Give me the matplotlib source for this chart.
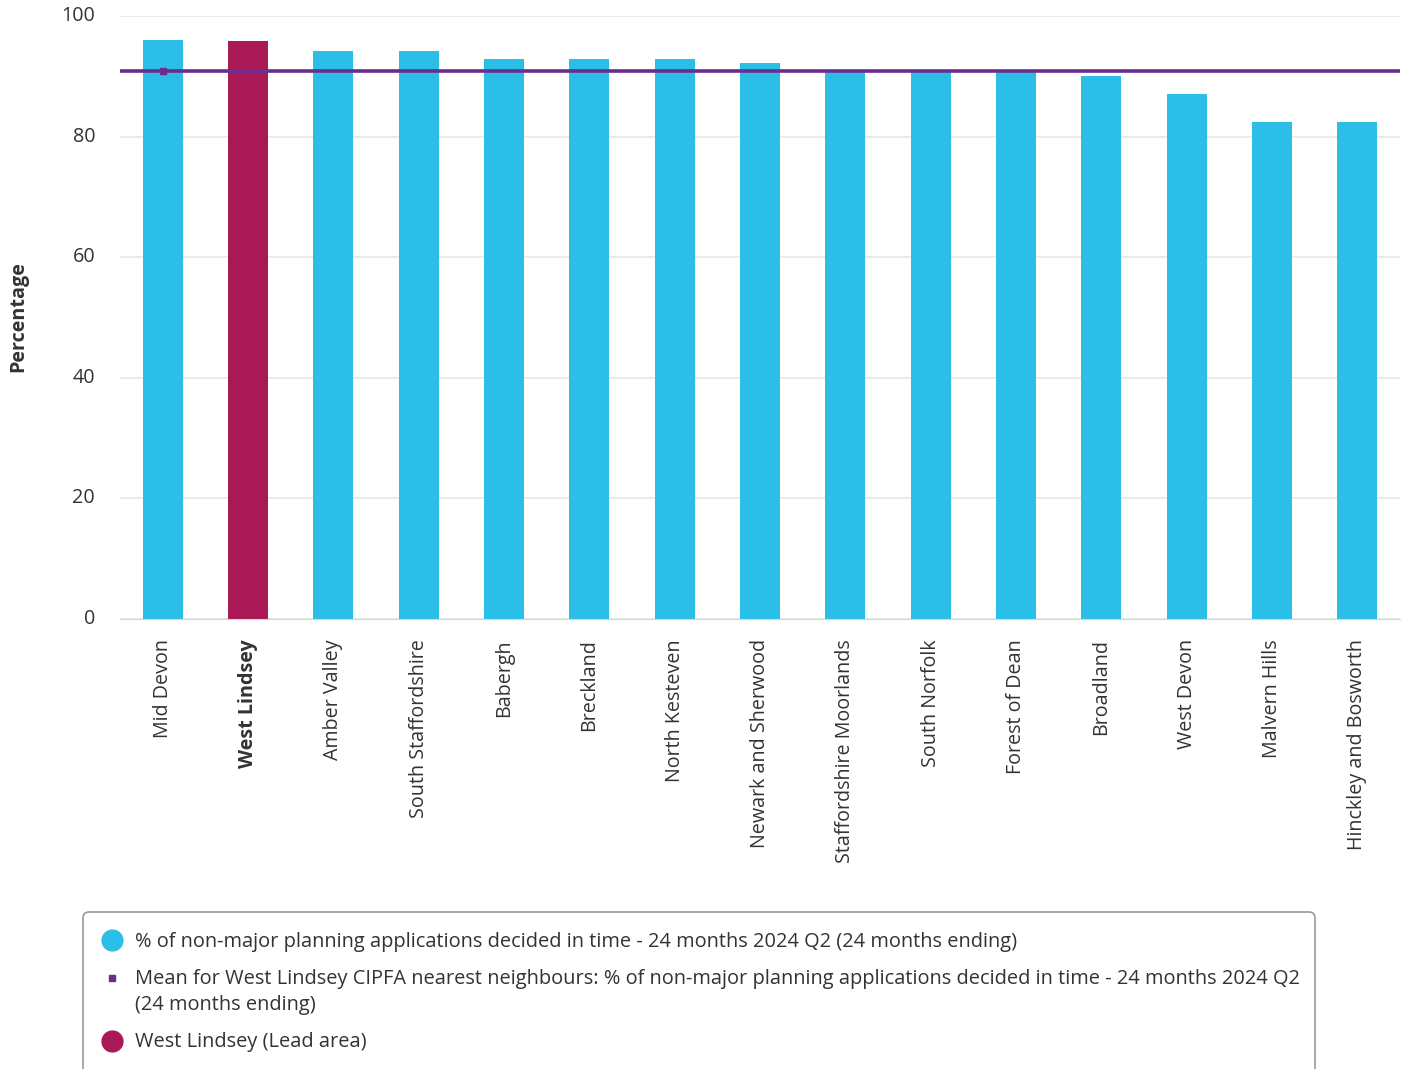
import matplotlib.pyplot as plt
from matplotlib.patches import FancyBboxPatch
from matplotlib.lines import Line2D

plt.rcParams['font.family'] = ['Open Sans', 'DejaVu Sans']

# % of non-major planning applications decided in time, 24 months to 2024 Q2
areas = ['Mid Devon', 'West Lindsey', 'Amber Valley', 'South Staffordshire', 'Babergh',
         'Breckland', 'North Kesteven', 'Newark and Sherwood', 'Staffordshire Moorlands',
         'South Norfolk', 'Forest of Dean', 'Broadland', 'West Devon', 'Malvern Hills',
         'Hinckley and Bosworth']
values = [96.1, 95.9, 94.2, 94.2, 92.8, 92.8, 92.8, 92.2, 91.1, 91.0, 91.0, 90.0, 87.0, 82.5, 82.5]
mean_value = 90.9
lead_area = 'West Lindsey'
yticks = [0, 20, 40, 60, 80, 100]

cyan = '#2bbfe8'
crimson = '#a91955'
purple = '#6b2c8f'
text_col = '#333333'
fs = 14.2

W, H = 1407, 1069
fig = plt.figure(figsize=(W / 100, H / 100), dpi=100)
ax = fig.add_axes([120 / W, (H - 619) / H, 1280 / W, 603 / H])

x = list(range(len(areas)))
colors = [crimson if a == lead_area else cyan for a in areas]
ax.bar(x, values, width=0.47, color=colors, zorder=2)

ax.axhline(mean_value, color=purple, lw=2.6, zorder=3)
ax.plot([0], [mean_value], 's', color=purple, ms=5, zorder=4)

ax.set_xlim(-0.5, len(areas) - 0.5)
ax.set_ylim(0, 100)
ax.set_yticks(yticks)
ax.yaxis.grid(True, color='#e6e6e6', lw=1.2, zorder=0)
for s in ['top', 'right', 'left']:
    ax.spines[s].set_visible(False)
ax.spines['bottom'].set_color('#ccd6eb')
ax.tick_params(axis='y', length=0, pad=18, labelsize=fs, labelcolor=text_col)
ax.tick_params(axis='x', length=0, pad=14.5, labelsize=fs, labelcolor=text_col)
ax.set_xticks(x)
ax.set_xticklabels(areas, rotation=90, va='top', ha='center')
for lbl in ax.get_xticklabels():
    if lbl.get_text() == lead_area:
        lbl.set_fontweight('bold')
for lbl in ax.get_yticklabels():
    lbl.set_va('center')

fig.text(18 / W, 1 - 317 / H, 'Percentage', rotation=90, ha='center', va='center',
         fontsize=fs, fontweight='bold', color=text_col)

# legend box drawn in pixel space
lfs = 14.4
lax = fig.add_axes([0, 0, 1, 1], zorder=-1)
lax.set_xlim(0, W)
lax.set_ylim(H, 0)
lax.axis('off')
lax.add_patch(FancyBboxPatch((83, 912), 1232, 180, boxstyle='round,pad=0,rounding_size=6',
                             fc='white', ec='#999999', lw=1.2))
legend_rows = [
    (940, 'o', cyan, 15, '% of non-major planning applications decided in time - 24 months 2024 Q2 (24 months ending)'),
    (978, 's', purple, 5, 'Mean for West Lindsey CIPFA nearest neighbours: % of non-major planning applications decided in time - 24 months 2024 Q2\n(24 months ending)'),
    (1041, 'o', crimson, 15, 'West Lindsey (Lead area)'),
]
for yy, mk, col, ms, label in legend_rows:
    lax.add_line(Line2D([112], [yy], marker=mk, color=col, ms=ms, ls='none'))
    lax.text(135, yy + 1.5, label, va='top' if '\n' in label else 'center', fontsize=lfs,
             color=text_col, linespacing=1.4)
# shift the two-line label so its first line sits on the marker
lax.texts[1].set_position((135, 978 - 9))

fig.savefig('out.png', dpi=100)
